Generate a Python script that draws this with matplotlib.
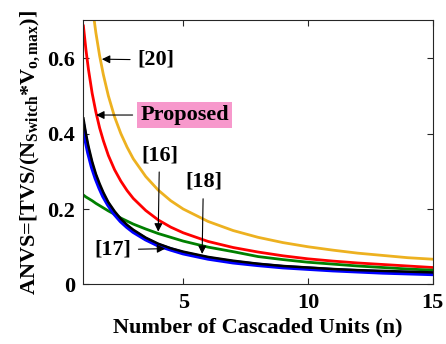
import numpy as np
import matplotlib
matplotlib.use("Agg")
import matplotlib.pyplot as plt

plt.rcParams['font.family'] = 'Liberation Serif'
plt.rcParams['font.weight'] = 'bold'
plt.rcParams['mathtext.fontset'] = 'custom'
plt.rcParams['mathtext.rm'] = 'Liberation Serif:bold'
plt.rcParams['mathtext.bf'] = 'Liberation Serif:bold'
plt.rcParams['mathtext.it'] = 'Liberation Serif:bold'
plt.rcParams['mathtext.default'] = 'bf'

# number of cascaded units
n = [1, 1.1, 1.2, 1.35, 1.5, 1.65, 1.8, 2, 2.25, 2.5, 2.75, 3, 3.5, 4, 4.5, 5,
     6, 7, 8, 9, 10, 11, 12, 13, 14, 15]

# ANVS for each topology
anvs_20 = [1.00, 0.909, 0.833, 0.741, 0.667, 0.606, 0.556, 0.50, 0.444, 0.40, 0.364, 0.333,
           0.286, 0.25, 0.222, 0.20,
           0.167, 0.143, 0.125, 0.111, 0.100, 0.091, 0.083, 0.077, 0.071, 0.067]
anvs_prop = [0.685, 0.623, 0.571, 0.507, 0.457, 0.415, 0.381, 0.342, 0.304, 0.274, 0.249, 0.228,
             0.196, 0.171, 0.152, 0.137,
             0.114, 0.098, 0.086, 0.076, 0.068, 0.062, 0.057, 0.053, 0.049, 0.045]
anvs_18 = [0.237, 0.232, 0.228, 0.222, 0.215, 0.209, 0.203, 0.195, 0.186, 0.176, 0.168, 0.160,
           0.147, 0.135, 0.125, 0.115,
           0.099, 0.087, 0.074, 0.066, 0.059, 0.054, 0.049, 0.045, 0.041, 0.038]
anvs_17 = [0.418, 0.381, 0.349, 0.311, 0.281, 0.256, 0.234, 0.211, 0.187, 0.168, 0.153, 0.140,
           0.120, 0.104, 0.093, 0.083,
           0.069, 0.059, 0.052, 0.046, 0.042, 0.038, 0.035, 0.032, 0.030, 0.028]
anvs_16 = [0.44, 0.400, 0.367, 0.326, 0.293, 0.267, 0.244, 0.218, 0.194, 0.174, 0.158, 0.145,
           0.124, 0.108, 0.096, 0.087,
           0.073, 0.063, 0.055, 0.049, 0.045, 0.041, 0.038, 0.036, 0.034, 0.032]

fig = plt.figure(figsize=(4.46, 3.44), dpi=100)
ax = fig.add_axes([0.187, 0.173, 0.783, 0.768])

ax.plot(n, anvs_20, color='#EDB120', lw=2)
ax.plot(n, anvs_prop, color='red', lw=2)
ax.plot(n, anvs_18, color='#008000', lw=2)
ax.plot(n, anvs_17, color='blue', lw=3.2)
ax.plot(n, anvs_16, color='black', lw=1.8)

ax.set_xlim(1, 15)
ax.set_ylim(0, 0.7)
ax.set_xticks([5, 10, 15])
ax.set_yticks([0, 0.2, 0.4, 0.6])
ax.set_yticklabels(['0', '0.2', '0.4', '0.6'])
ax.tick_params(direction='in', top=True, right=True, length=4, labelsize=16, pad=6,
               color='#262626')
for s in ax.spines.values():
    s.set_color('#262626')
    s.set_linewidth(0.8)

ax.set_xlabel('Number of Cascaded Units (n)', fontsize=16, fontweight='bold', labelpad=3)
ax.set_ylabel(r'ANVS=[TVS/(N$_{Switch}$*V$_{o,max}$)]', fontsize=16, fontweight='bold',
              labelpad=4)

arrow = dict(arrowstyle='-|>', color='black', lw=0.8, mutation_scale=12, shrinkA=3, shrinkB=0)
fs = 16
ax.annotate('[20]', xy=(1.74, 0.597), xytext=(3.15, 0.595), ha='left', va='center',
            fontsize=fs, fontweight='bold', arrowprops=arrow)
ax.annotate('Proposed', xy=(1.51, 0.449), xytext=(5.05, 0.449), ha='center', va='center',
            fontsize=fs, fontweight='bold', arrowprops=arrow,
            bbox=dict(boxstyle='square,pad=0.15', fc='#F799CC', ec='none'))
ax.annotate('[16]', xy=(4.0, 0.14), xytext=(4.05, 0.343), ha='center', va='center',
            fontsize=fs, fontweight='bold', arrowprops=arrow)
ax.annotate('[18]', xy=(5.76, 0.081), xytext=(5.81, 0.272), ha='center', va='center',
            fontsize=fs, fontweight='bold', arrowprops=arrow)
ax.annotate('[17]', xy=(4.28, 0.095), xytext=(2.19, 0.092), ha='center', va='center',
            fontsize=fs, fontweight='bold', arrowprops=arrow)

fig.savefig('out.png', dpi=100)
